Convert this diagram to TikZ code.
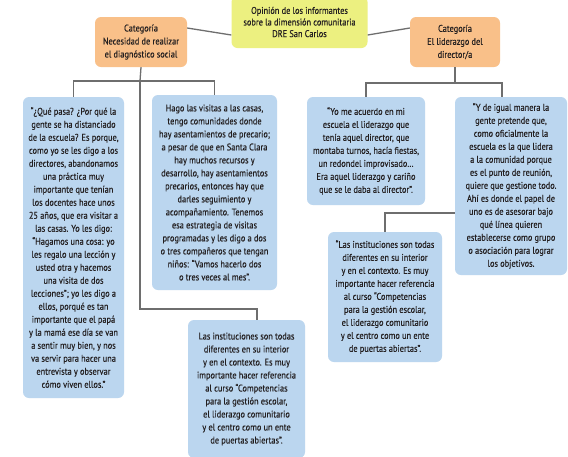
\documentclass[tikz,border=0pt]{standalone}
\usepackage{fontspec}
\setmainfont{PT Sans}[FakeStretch=0.86,FakeBold=0.3]
\definecolor{boxblue}{RGB}{187,214,239}
\definecolor{boxorange}{RGB}{249,192,137}
\definecolor{boxyellow}{RGB}{236,240,128}
\definecolor{linegray}{RGB}{110,110,110}
\definecolor{txt}{RGB}{35,31,32}
\tikzset{
  base/.style={rectangle, rounded corners=6pt, inner sep=0pt, align=center, text=txt,
    font=\fontsize{9.7}{13}\selectfont},
  bluebox/.style={base, fill=boxblue},
  orangebox/.style={base, fill=boxorange},
  yellowbox/.style={base, fill=boxyellow, font=\fontsize{9.7}{11.6}\selectfont},
  conn/.style={draw=linegray, line width=1.3pt},
}
\begin{document}
\begin{tikzpicture}[x=1pt,y=-1pt]
\useasboundingbox[fill=white] (0,0) rectangle (568,456);
% header nodes
\node[yellowbox, minimum width=136pt, minimum height=52pt] (top) at (299.5,22)
  {Opinión de los informantes\\sobre la dimensión comunitaria\\DRE San Carlos};
\node[orangebox, minimum width=92pt, minimum height=50pt] (lo) at (141,42)
  {Categoría\\Necesidad de realizar\\el diagnóstico social};
\node[orangebox, minimum width=90pt, minimum height=50pt] (ro) at (455,42)
  {Categoría\\El liderazgo del\\director/a};
% quote boxes
\node[bluebox, minimum width=101pt, minimum height=301pt] (L1) at (73.5,247.5)
  {“¿Qué pasa? ¿Por qué la\\gente se ha distanciado\\de la escuela? Es porque,\\como yo se les digo a los\\directores, abandonamos\\una práctica muy\\importante que tenían\\los docentes hace unos\\25 años, que era visitar a\\las casas. Yo les digo:\\“Hagamos una cosa: yo\\les regalo una lección y\\usted otra y hacemos\\una visita de dos\\lecciones”; yo les digo a\\ellos, porqué es tan\\importante que el papá\\y la mamá ese día se van\\a sentir muy bien, y nos\\va servir para hacer una\\entrevista y observar\\cómo viven ellos.”};
\node[bluebox, minimum width=125pt, minimum height=195pt] (L2) at (214.5,192.5)
  {Hago las visitas a las casas,\\tengo comunidades donde\\hay asentamientos de precario;\\a pesar de que en Santa Clara\\hay muchos recursos y\\desarrollo, hay asentamientos\\precarios, entonces hay que\\darles seguimiento y\\acompañamiento. Tenemos\\esa estrategia de visitas\\programadas y les digo a dos\\o tres compañeros que tengan\\niños: “Vamos hacerlo dos\\o tres veces al mes”.};
\node[bluebox, minimum width=117pt, minimum height=138pt] (L3) at (246.5,389)
  {Las instituciones son todas\\diferentes en su interior\\y en el contexto. Es muy\\importante hacer referencia\\al curso “Competencias\\para la gestión escolar,\\el liderazgo comunitario\\y el centro como un ente\\de puertas abiertas”.};
\node[bluebox, minimum width=118pt, minimum height=108pt] (R1) at (366,151)
  {“Yo me acuerdo en mi\\escuela el liderazgo que\\tenía aquel director, que\\montaba turnos, hacía fiestas,\\un redondel improvisado…\\Era aquel liderazgo y cariño\\que se le daba al director”.};
\node[bluebox, minimum width=112pt, minimum height=178pt] (R2) at (511,186)
  {“Y de igual manera la\\gente pretende que,\\como oficialmente la\\escuela es la que lidera\\a la comunidad porque\\es el punto de reunión,\\quiere que gestione todo.\\Ahí es donde el papel de\\uno es de asesorar bajo\\qué línea quieren\\establecerse como grupo\\o asociación para lograr\\los objetivos.};
\node[bluebox, minimum width=114pt, minimum height=130pt] (R3) at (385,297)
  {“Las instituciones son todas\\diferentes en su interior\\y en el contexto. Es muy\\importante hacer referencia\\al curso “Competencias\\para la gestión escolar,\\el liderazgo comunitario\\y el centro como un ente\\de puertas abiertas”.};
% junctions
\coordinate (jl) at (140,81);
\coordinate (jb) at (140,309);
\coordinate (jr) at (455,83);
% connectors
\draw[conn] ([yshift=-13pt]top.west) -- ([yshift=14pt]lo.east);
\draw[conn] ([yshift=-13pt]top.east) -- ([yshift=14pt]ro.west);
\draw[conn] (lo.south) -- (jl);
\draw[conn] (L1.north) |- (jl);
\draw[conn] (L2.north) |- (jl);
\draw[conn] (jl) -- (jb) -| ([xshift=10.5pt]L3.north);
\draw[conn] (ro.south) -- (jr);
\draw[conn] (R1.north) |- (jr);
\draw[conn] ([xshift=-9pt]R2.north) |- (jr);
\draw[conn] ([yshift=-27pt]R2.west) -| (R3.north);
\end{tikzpicture}
\end{document}
